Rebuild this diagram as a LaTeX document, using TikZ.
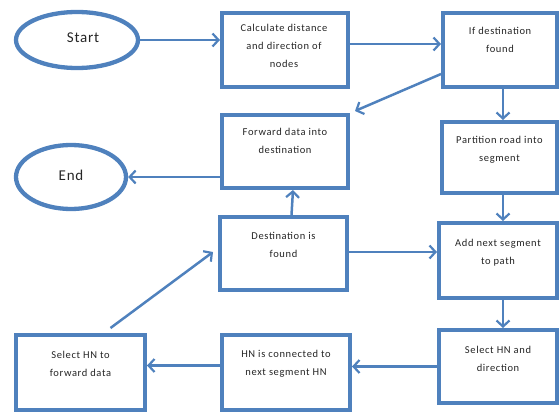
\documentclass[tikz,border=0pt]{standalone}
\usepackage{fontspec}
\setmainfont{Carlito}
\newfontfamily\boxfont[LetterSpace=6]{Carlito}
\newfontfamily\termfont[LetterSpace=5]{Carlito}
\usetikzlibrary{arrows.meta,shapes.geometric}
\definecolor{flowblue}{RGB}{79,129,189}
\begin{document}
\begin{tikzpicture}[x=1pt,y=-1pt,
  box/.style={draw=flowblue, line width=4pt, fill=white, inner sep=0pt},
  oval/.style={draw=flowblue, line width=4.3pt, ellipse, inner sep=0pt},
  txt/.style={font=\boxfont\fontsize{10.5}{18}\selectfont, align=center, inner sep=0pt, text=black!85},
  term/.style={font=\termfont\fontsize{15}{17}\selectfont, inner sep=0pt, text=black!85},
  flow/.style={draw=flowblue, line width=2.5pt, -{Straight Barb[length=6pt,width=13pt,line width=2.2pt]}}
]
\useasboundingbox (0,0) rectangle (560,412);

% terminals
\node[oval, minimum width=122pt, minimum height=56pt] (start) at (77,40) {};
\node[term] (start-t) at (83,38) {Start};
\node[oval, minimum width=110pt, minimum height=64pt] (end) at (71,177) {};
\node[term] (end-t) at (71,175) {End};

% process boxes
\node[box, minimum width=126pt, minimum height=74pt] (calc) at (285,50) {};
\node[txt] (calc-t) at (284,45.5) {Calculate distance\\and direction of\\nodes};

\node[box, minimum width=114pt, minimum height=74pt] (iff) at (500,50) {};
\node[txt] (iff-t) at (500,40) {If destination\\found};

\node[box, minimum width=126pt, minimum height=73pt] (fwd) at (285,151.5) {};
\node[txt] (fwd-t) at (285,140.5) {Forward data into\\destination};

\node[box, minimum width=115pt, minimum height=71pt] (part) at (499.5,157.5) {};
\node[txt] (part-t) at (499.5,150) {Partition road into\\segment};

\node[box, minimum width=127pt, minimum height=73pt] (dest) at (283.5,253.5) {};
\node[txt] (dest-t) at (283.5,245) {Destination is\\found};

\node[box, minimum width=118pt, minimum height=75pt] (add) at (498,260.5) {};
\node[txt] (add-t) at (498,253) {Add next segment\\to path};

\node[box, minimum width=129pt, minimum height=75pt] (selfw) at (80.5,372.5) {};
\node[txt] (selfw-t) at (80.5,364) {Select HN to\\forward data};

\node[box, minimum width=128pt, minimum height=75pt] (hnc) at (286,372.5) {};
\node[txt] (hnc-t) at (286,364) {HN is connected to\\next segment HN};

\node[box, minimum width=118pt, minimum height=73pt] (seldir) at (498,366.5) {};
\node[txt] (seldir-t) at (498,358.5) {Select HN and\\direction};

% connectors
\draw[flow] (start.east) -- (start.east -| calc.west);
\draw[flow] ([yshift=6pt]calc.east) -- ([yshift=6pt]iff.west);
\draw[flow] ([yshift=-24pt]iff.west) -- ([xshift=5pt,yshift=2pt]fwd.north east);
\draw[flow] ([xshift=3pt]iff.south) -- ([xshift=3.5pt]part.north);
\draw[flow] ([xshift=3.5pt]part.south) -- ([xshift=5pt]add.north);
\draw[flow] ([xshift=5pt]add.south) -- ([xshift=5pt]seldir.north);
\draw[flow] (seldir.west) -- (seldir.west -| hnc.east);
\draw[flow] ([yshift=7pt]hnc.west) -- ([yshift=7pt]selfw.east);
\draw[flow] ([xshift=30pt,yshift=5pt]selfw.north) -- ([xshift=-5pt,yshift=1.5pt]dest.west);
\draw[flow] ([yshift=1.5pt]dest.east) -- ([yshift=1.5pt]dest.east -| add.west);
\draw[flow] ([xshift=8pt]dest.north) -- ([xshift=8pt]fwd.south);
\draw[flow] (end.east -| fwd.west) -- (end.east);
\end{tikzpicture}
\end{document}
